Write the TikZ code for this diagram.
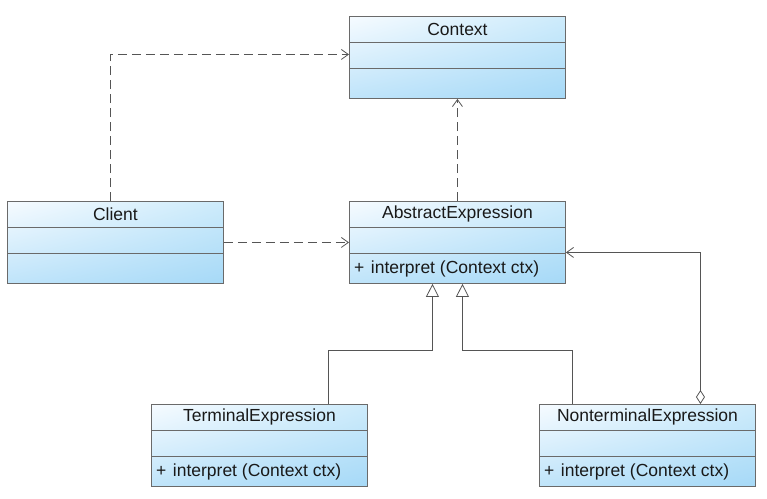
\documentclass[tikz,border=0pt]{standalone}
\usepackage{fontspec}
\setmainfont{Liberation Sans}
\usetikzlibrary{arrows.meta,shadings}
\definecolor{cUL}{HTML}{F6FBFF}
\definecolor{cUR}{HTML}{CDEBFB}
\definecolor{cLL}{HTML}{BFE4FA}
\definecolor{cLR}{HTML}{A6D9F7}
\definecolor{boxgray}{HTML}{6A6A6A}
\definecolor{lingray}{HTML}{555555}
\tikzset{
  cls/.style={draw=boxgray, line width=0.9pt, rectangle, inner sep=0pt,
    minimum width=216pt, minimum height=82pt, anchor=north west,
    shade, upper left=cUL, upper right=cUR, lower left=cLL, lower right=cLR},
  divider/.style={draw=boxgray, line width=0.8pt},
  ttl/.style={inner sep=0pt, font=\fontsize{17.5}{20}\selectfont, text=black!90},
  opstxt/.style={inner sep=0pt, anchor=west, font=\fontsize{17.5}{20}\selectfont, text=black!90},
  conn/.style={draw=lingray, line width=0.8pt},
  dep/.style={conn, dash pattern=on 9pt off 5pt, -{Straight Barb[length=7pt,width=10pt]}},
  inherit/.style={conn, -{Triangle[open,length=13pt,width=13pt,fill=white]}},
  aggr/.style={conn, {Diamond[open,length=14pt,width=9pt,fill=white]}-{Straight Barb[length=7pt,width=10pt]}}
}
\newcommand\umlbox[4]{%
  \node[cls] (#1) at (#2,#3) {};
  \draw[divider] ([yshift=-26pt]#1.north west) -- ([yshift=-26pt]#1.north east);
  \draw[divider] ([yshift=-52pt]#1.north west) -- ([yshift=-52pt]#1.north east);
  \node[ttl] (#1-t) at ([yshift=-13pt]#1.north) {#4};
}
\begin{document}
\begin{tikzpicture}[x=1pt,y=-1pt]
\useasboundingbox[fill=white] (0,0) rectangle (767,498);
\umlbox{context}{349}{16}{Context}
\umlbox{client}{7}{201}{Client}
\umlbox{abstract}{349}{201}{AbstractExpression}
\umlbox{terminal}{151}{404}{TerminalExpression}
\umlbox{nonterminal}{539}{404}{NonterminalExpression}
\node[opstxt] (abstract-o) at ([xshift=5pt,yshift=15pt]abstract.south west) {+\hspace{6.5pt}interpret (Context ctx)};
\node[opstxt] (terminal-o) at ([xshift=5pt,yshift=15pt]terminal.south west) {+\hspace{6.5pt}interpret (Context ctx)};
\node[opstxt] (nonterminal-o) at ([xshift=5pt,yshift=15pt]nonterminal.south west) {+\hspace{6.5pt}interpret (Context ctx)};
% dependencies
\draw[dep] ([xshift=-5pt]client.north) |- ([yshift=3pt]context.west);
\draw[dep] (client.east) -- (abstract.west);
\draw[dep] (abstract.north) -- (context.south);
% inheritance
\draw[inherit] ([xshift=69pt]terminal.north) |- ([xshift=-25pt,yshift=-66pt]abstract.south) -- ([xshift=-25pt]abstract.south);
\draw[inherit] ([xshift=-75pt]nonterminal.north) |- ([xshift=5pt,yshift=-66pt]abstract.south) -- ([xshift=5pt]abstract.south);
% aggregation
\draw[aggr] ([xshift=53pt]nonterminal.north) |- ([yshift=-10pt]abstract.east);
\end{tikzpicture}
\end{document}
